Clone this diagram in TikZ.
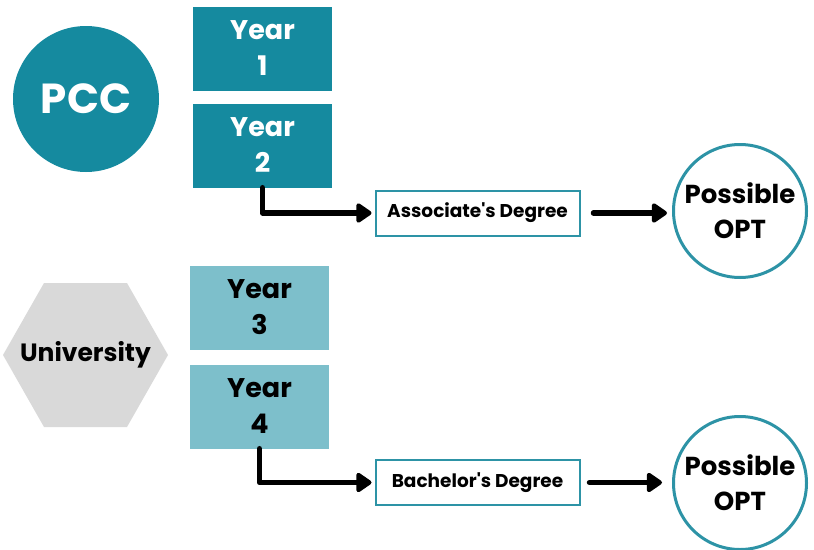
\documentclass[tikz,border=0pt]{standalone}
\usepackage{fontspec}
\setmainfont{Poppins}
\usetikzlibrary{arrows.meta}
\definecolor{darkteal}{HTML}{158A9F}
\definecolor{lightteal}{HTML}{7DBFCB}
\definecolor{hexgray}{HTML}{D9D9D9}
\definecolor{rimteal}{HTML}{2D93A6}
\tikzset{
  yearbox/.style={minimum width=139pt, minimum height=84pt, inner sep=0pt, align=center, font=\fontsize{27}{36}\selectfont\bfseries},
  darkyear/.style={yearbox, fill=darkteal, text=white},
  lightyear/.style={yearbox, fill=lightteal, text=black},
  degbox/.style={draw=rimteal, line width=2pt, fill=white, minimum width=204pt, minimum height=45pt, inner sep=0pt, font=\fontsize{18.5}{20}\selectfont\bfseries},
  optcirc/.style={circle, draw=rimteal, line width=3pt, minimum size=133pt, inner sep=0pt, align=center, font=\fontsize{26}{35}\selectfont\bfseries},
  flowarrow/.style={line width=5.5pt, line cap=round, line join=round, -{Triangle[round, length=17pt, width=22pt]}},
}
\begin{document}
\begin{tikzpicture}[x=1pt, y=-1pt]
\useasboundingbox (0,0) rectangle (814,549);
\clip (0,0) rectangle (814,549);
% PCC
\node[circle, fill=darkteal, minimum size=146pt, inner sep=0pt, text=white, font=\fontsize{42}{44}\selectfont\bfseries] (pcc) at (86,99) {PCC};
\node[darkyear] (y1) at (262.5,48.5) {Year\\1};
\node[darkyear] (y2) at (262.5,145.5) {Year\\2};
\node[degbox] (assoc) at (477.5,213) {Associate\textquotesingle s Degree};
\node[optcirc] (opt1) at (740,211) {Possible\\OPT};
\draw[flowarrow, shorten >=3pt] (y2.south) |- (assoc.west);
\draw[flowarrow, shorten <=13pt, shorten >=5pt] (assoc.east) -- (assoc.east -| opt1.west);
% University
\fill[hexgray] (3,355) -- (44,283) -- (127,283) -- (168,355) -- (127,427) -- (44,427) -- cycle;
\node[font=\fontsize{25}{27}\selectfont\bfseries] (uni) at (85.5,355) {University};
\node[lightyear] (y3) at (259.5,307.5) {Year\\3};
\node[lightyear] (y4) at (259.5,406.5) {Year\\4};
\node[degbox] (bach) at (477.5,482.5) {Bachelor\textquotesingle s Degree};
\node[optcirc] (opt2) at (740,483) {Possible\\OPT};
\draw[flowarrow, shorten >=3pt] (y4.south) |- (bach.west);
\draw[flowarrow, shorten <=9pt, shorten >=10pt] (bach.east) -- (bach.east -| opt2.west);
\end{tikzpicture}
\end{document}
